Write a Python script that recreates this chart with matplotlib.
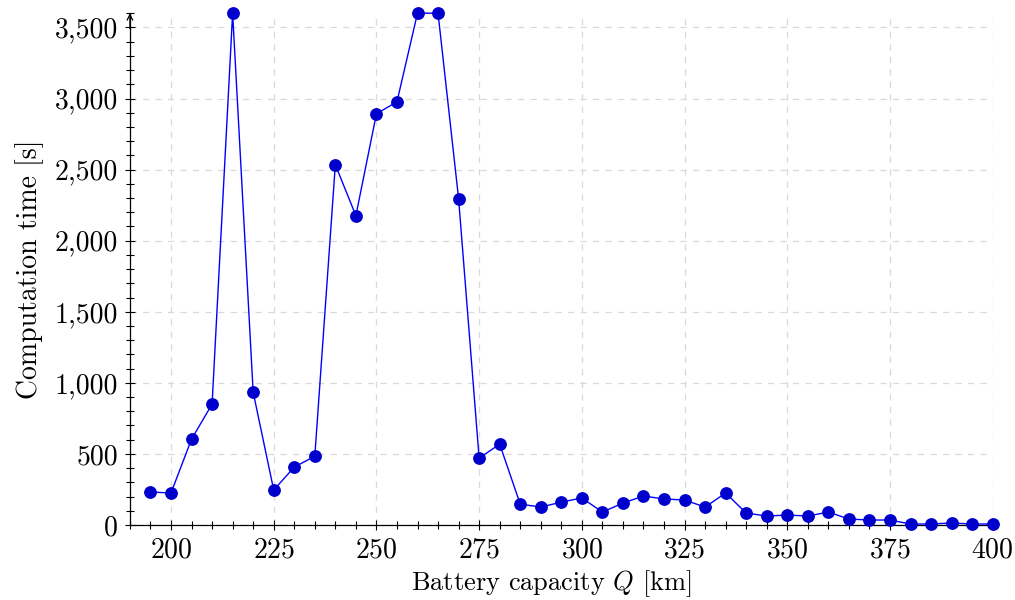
import numpy as np
import matplotlib
matplotlib.use("Agg")
import matplotlib.pyplot as plt
from matplotlib.ticker import MultipleLocator, FuncFormatter

plt.rcParams['font.family'] = 'cmr10'
plt.rcParams['mathtext.fontset'] = 'cm'
plt.rcParams['axes.formatter.use_mathtext'] = True

# battery capacity Q [km] and computation time [s]
capacity = [195, 200, 205, 210, 215, 220, 225, 230, 235, 240,
            245, 250, 255, 260, 265, 270, 275, 280, 285, 290,
            295, 300, 305, 310, 315, 320, 325, 330, 335, 340,
            345, 350, 355, 360, 365, 370, 375, 380, 385, 390,
            395, 400]
comp_time = [232, 225, 604, 850, 3600, 934, 246, 407, 484, 2534,
             2176, 2892, 2977, 3600, 3600, 2296, 470, 569, 147, 126,
             161, 190, 91, 154, 204, 183, 176, 126, 225, 84,
             63, 70, 63, 91, 42, 35, 35, 7, 7, 14,
             7, 7]

fig = plt.figure(figsize=(10.15, 6), dpi=100)
ax = fig.add_axes([0.128, 0.125, 0.850, 0.853])

ax.plot(capacity, comp_time, color='#0000ff', lw=1.0, marker='o', markersize=8.2,
        markerfacecolor='#0000cc', markeredgecolor='#0000cc', clip_on=False, zorder=3)

ax.set_xlim(190, 400)
ax.set_ylim(0, 3600)
ax.xaxis.set_major_locator(MultipleLocator(25))
ax.xaxis.set_minor_locator(MultipleLocator(5))
ax.yaxis.set_major_locator(MultipleLocator(500))
ax.yaxis.set_minor_locator(MultipleLocator(100))
ax.yaxis.set_major_formatter(FuncFormatter(lambda v, p: f'{v:,.0f}'))

ax.grid(True, which='major', color='#d9d9d9', linestyle=(0, (5, 5)), lw=0.9)
ax.set_axisbelow(True)

for s in ['top', 'right']:
    ax.spines[s].set_visible(False)
for s in ['left', 'bottom']:
    ax.spines[s].set_linewidth(0.9)

ax.tick_params(which='both', direction='inout', width=0.8, labelsize=20)
ax.tick_params(which='major', length=7)
ax.tick_params(which='minor', length=6)
ax.tick_params(axis='x', pad=5)
ax.tick_params(axis='y', pad=5)

ax.annotate('', xy=(0, 1.0), xycoords='axes fraction', xytext=(0, 0.97),
            arrowprops=dict(arrowstyle='->', lw=0.9, color='black',
                            mutation_scale=10, shrinkA=0, shrinkB=0))

ax.set_xlabel('Battery capacity $Q$ [km]', fontsize=19)
ax.xaxis.set_label_coords(0.488, -0.085)
ax.set_ylabel('Computation time [s]', fontsize=20, labelpad=8)

fig.savefig('out.png', dpi=100)
